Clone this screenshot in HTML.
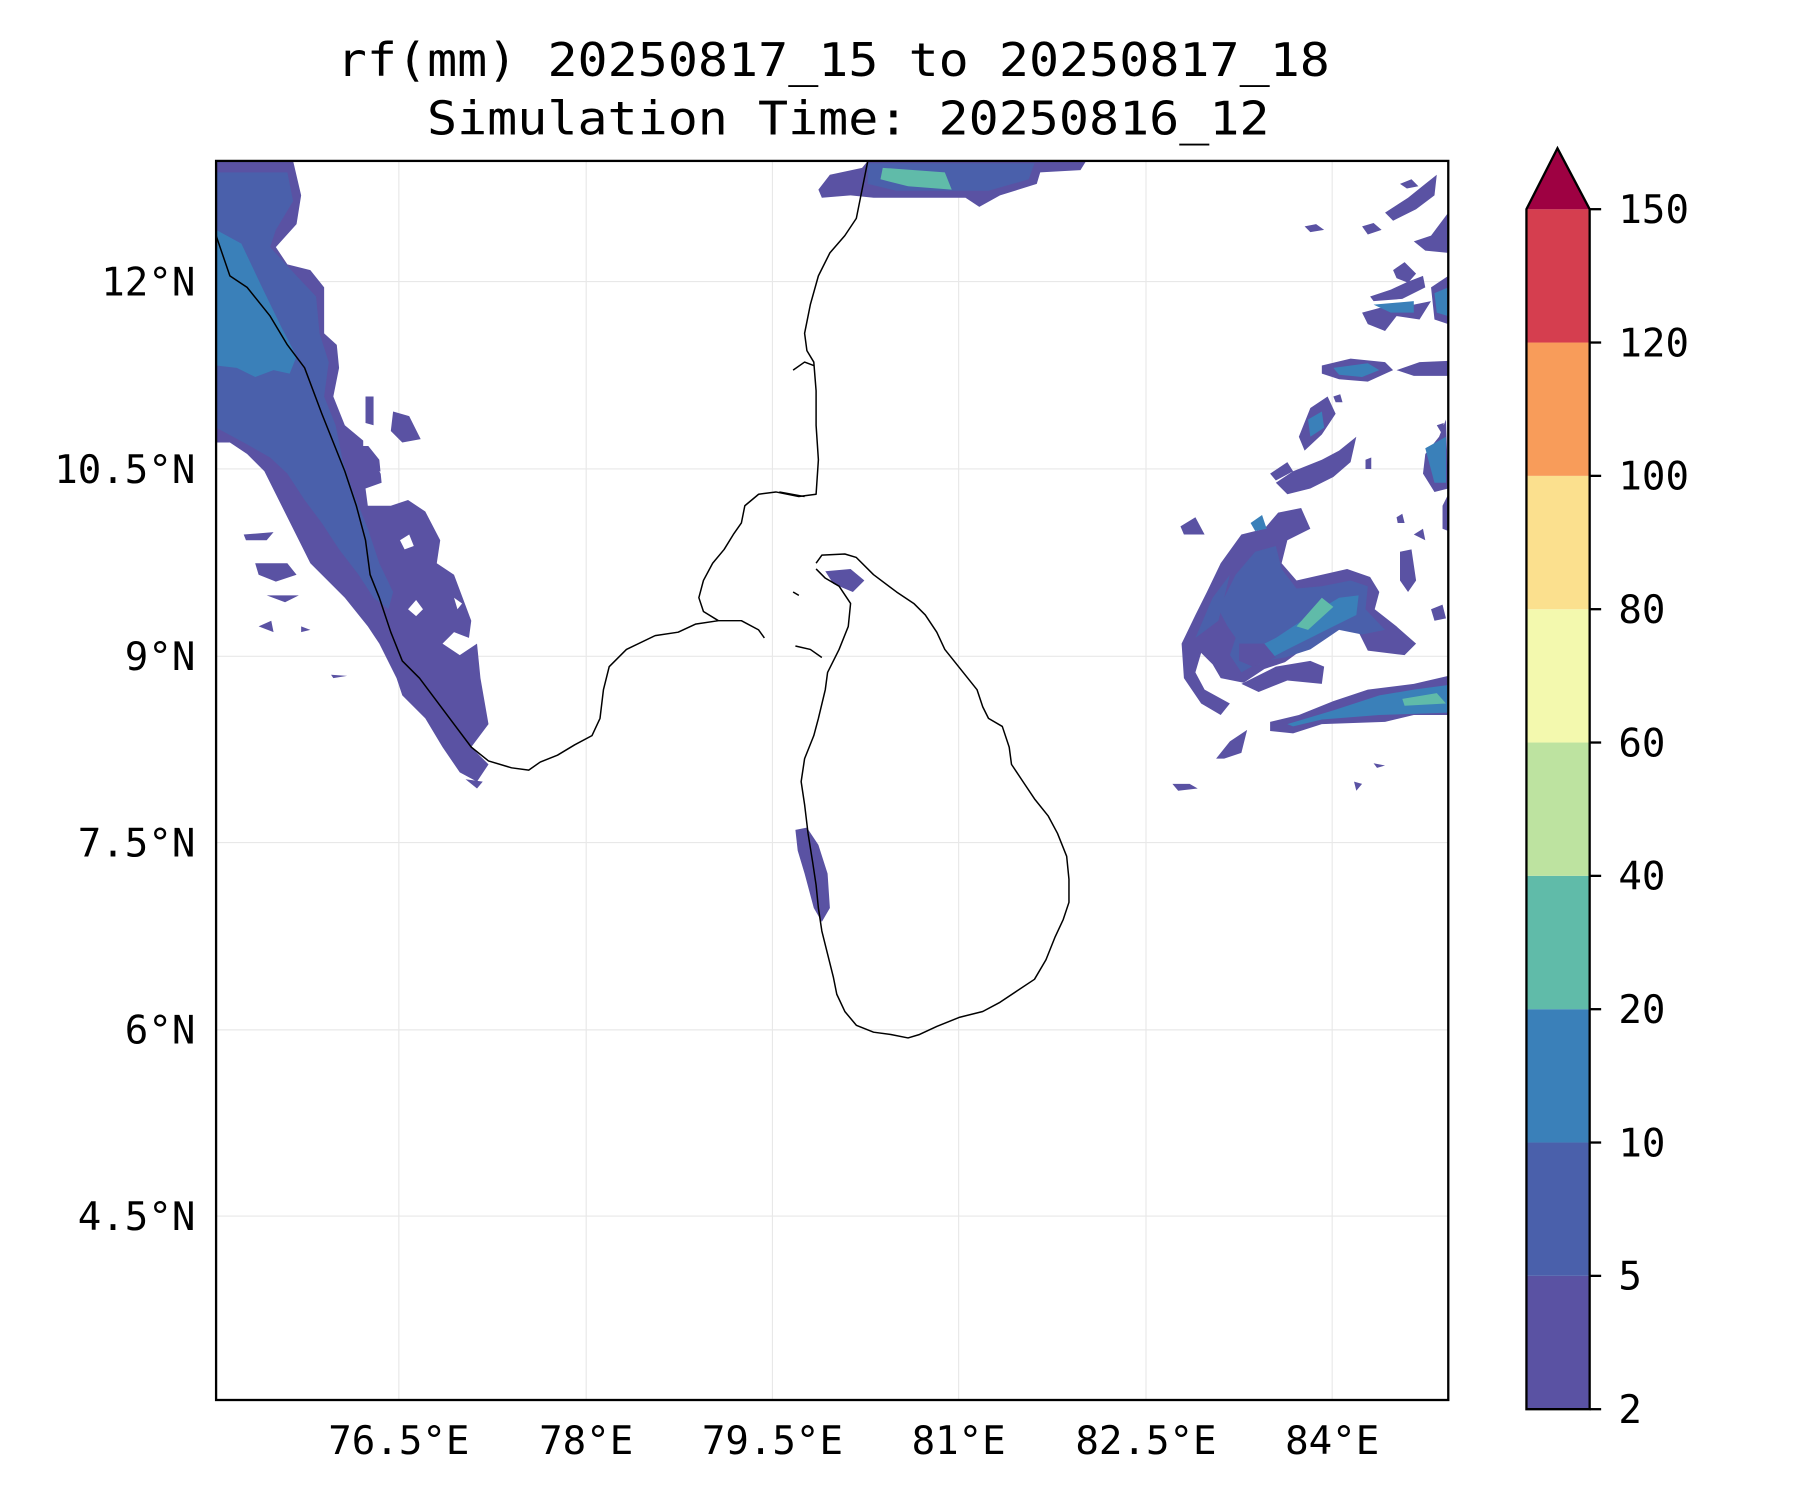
<!DOCTYPE html>
<html><head><meta charset="utf-8"><style>html,body{margin:0;padding:0;background:#fff}svg{display:block}</style></head>
<body>
<svg width="1800" height="1500" viewBox="0 0 1566 1305" preserveAspectRatio="none" xmlns="http://www.w3.org/2000/svg" font-family="'DejaVu Sans Mono','Liberation Mono',monospace">
<rect width="1566" height="1305" fill="#fff"/>
<text x="725" y="66" font-size="40" text-anchor="middle" textLength="864" lengthAdjust="spacingAndGlyphs">rf(mm) 20250817_15 to 20250817_18</text>
<text x="738" y="117" font-size="40" text-anchor="middle" textLength="733" lengthAdjust="spacingAndGlyphs">Simulation Time: 20250816_12</text>
<clipPath id="c"><rect x="188" y="140" width="1072" height="1078"/></clipPath>
<g stroke="#e8e8e8" stroke-width="1">
<line x1="347" y1="140" x2="347" y2="1218"/><line x1="510" y1="140" x2="510" y2="1218"/><line x1="672" y1="140" x2="672" y2="1218"/><line x1="834" y1="140" x2="834" y2="1218"/><line x1="997" y1="140" x2="997" y2="1218"/><line x1="1159" y1="140" x2="1159" y2="1218"/>
<line x1="188" y1="245" x2="1260" y2="245"/><line x1="188" y1="408" x2="1260" y2="408"/><line x1="188" y1="571" x2="1260" y2="571"/><line x1="188" y1="733" x2="1260" y2="733"/><line x1="188" y1="896" x2="1260" y2="896"/><line x1="188" y1="1058" x2="1260" y2="1058"/>
</g>
<g clip-path="url(#c)">
<path fill="#5a52a3" d="M188,140 L255,140 262,170 258,195 240,215 250,230 270,235 282,250 282,290 293,300 295,320 290,345 300,370 318,385 330,400 332,420 318,425 320,440 340,440 355,435 370,445 383,470 380,490 395,500 410,540 408,555 395,550 385,560 400,570 415,560 418,590 425,630 410,650 425,665 415,680 400,672 385,650 370,625 350,605 345,590 330,560 320,545 300,520 285,505 270,490 260,470 250,450 240,430 230,410 215,395 200,385 188,385 Z"/>
<path fill="#fff" d="M228,160 L240,158 235,172 226,172Z M316,376 L322,376 322,388 316,388Z M330,410 L340,412 336,420Z M355,530 L362,522 368,530 362,536Z M348,470 L356,465 360,475 352,478Z M395,520 L402,525 398,530Z"/>
<path fill="#4a60ab" d="M188,150 L250,150 255,175 240,200 235,215 258,240 275,258 278,290 286,315 282,345 292,370 298,400 308,430 320,460 330,490 342,515 338,530 325,520 312,500 295,478 280,455 265,435 250,412 235,398 212,385 188,372 Z"/>
<path fill="#3a80b9" d="M188,200 L210,212 228,250 245,285 258,310 252,325 238,322 222,328 206,320 188,318 Z"/>
<path fill="#5a52a3" d="M212,465 L238,463 232,470 214,470Z M222,490 L250,490 258,500 240,506 225,500Z M232,518 L260,518 248,524Z M225,545 L236,540 238,550Z M262,545 L270,548 262,550Z M288,587 L302,588 290,590Z M342,358 L356,362 366,382 350,385 340,375Z M318,345 L325,345 325,370 318,368Z M405,678 L420,680 415,686Z"/>
<path fill="#5a52a3" d="M712,165 L722,152 750,146 755,140 945,140 940,148 905,150 902,160 870,170 852,180 840,172 760,172 740,170 715,172 Z"/>
<path fill="#4a60ab" d="M755,142 L900,142 895,156 860,166 780,166 755,160Z"/>
<path fill="#60bba9" d="M768,146 L822,150 828,165 790,162 766,156Z"/>
<path fill="#5a52a3" d="M692,722 L702,720 712,735 720,760 722,790 715,802 708,790 700,760 694,740Z M718,497 L740,495 752,505 742,515 725,508Z"/>
<path fill="#5a52a3" d="M1105,628 L1130,622 1160,610 1190,600 1230,595 1260,588 1260,622 1230,622 1205,628 1150,630 1125,638 1105,636Z M1058,660 L1070,645 1085,635 1080,655 1065,660Z M1020,682 L1035,682 1042,686 1025,688Z M1178,680 L1185,682 1180,688Z M1195,664 L1205,666 1198,668Z"/>
<path fill="#3a80b9" d="M1120,630 L1160,618 1200,605 1230,600 1260,596 1260,620 1200,622 1150,626 1125,632Z"/>
<path fill="#60bba9" d="M1220,608 L1250,603 1258,612 1222,614Z"/>
<path fill="#5a52a3" d="M1028,560 L1040,535 1050,515 1062,490 1080,465 1100,460 1112,446 1132,442 1140,460 1120,470 1115,490 1128,505 1150,500 1172,495 1192,502 1200,515 1196,530 1215,545 1232,560 1222,570 1190,566 1180,546 1160,545 1140,560 1118,576 1100,582 1082,594 1062,590 1055,578 1045,568 1040,585 1048,600 1070,612 1062,622 1045,612 1030,590Z"/>
<path fill="#4a60ab" d="M1060,530 L1075,500 1092,480 1110,475 1115,495 1128,512 1150,510 1175,505 1190,510 1188,530 1205,548 1185,552 1165,548 1140,565 1118,572 1098,575 1080,585 1070,570 1075,555 1068,545Z"/>
<path fill="#3a80b9" d="M1080,570 L1110,555 1140,535 1165,520 1182,518 1180,535 1150,550 1120,565 1095,578Z M1088,455 L1098,448 1102,460 1092,462Z"/>
<path fill="#60bba9" d="M1128,545 L1150,520 1160,528 1138,548Z"/>
<path fill="#5a52a3" d="M1027,458 L1040,450 1048,465 1030,465Z M1078,560 L1100,560 1110,572 1090,580 1078,575Z M1080,595 L1110,580 1140,575 1152,580 1150,595 1120,592 1095,602Z M1110,420 L1125,410 1150,400 1165,392 1180,380 1175,402 1160,415 1140,425 1120,430Z M1130,380 L1140,355 1155,345 1162,360 1150,378 1135,392Z M1105,412 L1120,402 1125,410 1110,418Z M1218,480 L1228,478 1232,505 1225,515 1218,505Z M1245,530 L1255,526 1258,538 1248,540Z M1215,450 L1220,447 1222,455 1216,455Z M1230,465 L1238,460 1240,470Z"/>
<path fill="#4a60ab" d="M1040,555 L1055,520 1070,500 1060,540Z"/>
<path fill="#5a52a3" d="M1150,318 L1175,312 1205,315 1212,322 1190,332 1165,330 1150,325Z M1215,322 L1235,315 1260,314 1260,327 1230,327Z M1185,272 L1200,268 1230,265 1245,262 1235,278 1215,275 1205,288 1190,282Z M1192,258 L1210,252 1225,245 1238,240 1240,250 1220,260 1195,262Z M1212,235 L1222,228 1232,238 1225,246 1215,242Z M1245,250 L1260,240 1260,282 1248,278Z M1230,210 L1245,205 1260,185 1260,220 1240,218Z M1205,185 L1225,172 1240,160 1250,152 1248,170 1232,182 1212,192Z M1135,197 L1145,195 1152,200 1140,202Z M1185,197 L1195,194 1202,200 1190,204Z M1218,160 L1228,156 1234,162 1224,164Z M1240,395 L1252,380 1258,365 1260,425 1248,428 1238,412Z M1255,440 L1260,430 1260,462 1255,460Z M1188,400 L1193,398 1193,408 1188,408Z M1160,345 L1166,343 1168,350 1162,350Z M1250,370 L1256,368 1256,380Z"/>
<path fill="#3a80b9" d="M1160,320 L1190,316 1200,322 1185,328 1165,326Z M1195,265 L1230,262 1230,272 1210,272Z M1248,255 L1260,250 1260,275 1250,272Z M1240,390 L1258,380 1258,420 1248,420Z M1138,365 L1150,358 1152,372 1140,380Z"/>
</g>
<g fill="none" stroke="#000" stroke-width="1.3" stroke-linejoin="round">
<path d="M188,205 L200,240 215,250 235,275 250,300 265,320 280,360 290,385 300,410 310,440 318,470 322,500 330,520 340,550 350,575 365,590 380,610 395,630 410,650 425,662 445,668 460,670 470,663 485,657 500,648 515,640 522,625 525,600 530,580 545,565 570,553 590,550 605,543 625,540 645,540 660,548 665,555"/>
<path d="M755,140 L750,165 745,190 735,205 722,220 712,240 705,265 700,290 702,305 708,315 710,340 710,370 712,400 710,430 695,432 675,428 660,430 648,440 645,455 638,465 630,478 620,490 612,505 608,520 612,532 625,540"/>
<path d="M710,490 L715,483 735,482 745,485 760,500 780,515 795,525 805,535 815,550 822,565 830,575 838,585 850,600 855,615 860,625 872,632 878,650 880,665 890,680 900,695 912,710 920,725 928,745 930,765 930,785 925,800 918,815 910,835 900,852 885,862 870,872 855,880 835,885 815,893 800,900 790,903 775,900 760,898 745,892 735,880 728,865 725,850 720,830 715,810 712,790 710,770 707,750 703,725 700,700 697,680 700,660 708,640 712,625 718,600 720,585 730,565 738,545 740,525 730,510 718,503 710,495"/>
<path d="M692,562 L705,565 715,572 M690,515 L695,518 M690,322 L700,315 708,318 M678,428 L700,432"/>
</g>
<rect x="188" y="140" width="1072" height="1078" fill="none" stroke="#000" stroke-width="2"/>
<g font-size="34" fill="#000">
<text x="347" y="1265" text-anchor="middle">76.5°E</text><text x="510" y="1265" text-anchor="middle">78°E</text><text x="672" y="1265" text-anchor="middle">79.5°E</text><text x="834" y="1265" text-anchor="middle">81°E</text><text x="997" y="1265" text-anchor="middle">82.5°E</text><text x="1159" y="1265" text-anchor="middle">84°E</text>
<text x="170" y="257" text-anchor="end">12°N</text><text x="170" y="420" text-anchor="end">10.5°N</text><text x="170" y="583" text-anchor="end">9°N</text><text x="170" y="745" text-anchor="end">7.5°N</text><text x="170" y="908" text-anchor="end">6°N</text><text x="170" y="1070" text-anchor="end">4.5°N</text>
</g>
<g>
<rect x="1328" y="1110" width="55" height="116" fill="#5a52a3"/>
<rect x="1328" y="994" width="55" height="116" fill="#4a60ab"/>
<rect x="1328" y="878" width="55" height="116" fill="#3a80b9"/>
<rect x="1328" y="762" width="55" height="116" fill="#60bba9"/>
<rect x="1328" y="646" width="55" height="116" fill="#bde3a0"/>
<rect x="1328" y="530" width="55" height="116" fill="#f3f9ae"/>
<rect x="1328" y="414" width="55" height="116" fill="#fbe08e"/>
<rect x="1328" y="298" width="55" height="116" fill="#f89c5a"/>
<rect x="1328" y="182" width="55" height="116" fill="#d53e4f"/>
<path d="M1328,182 L1355,129 L1383,182 Z" fill="#9e0142"/>
<path d="M1328,182 L1355,129 L1383,182 L1383,1226 L1328,1226 Z" fill="none" stroke="#000" stroke-width="2"/>
<g stroke="#000" stroke-width="2">
<line x1="1383" y1="182" x2="1393" y2="182"/><line x1="1383" y1="298" x2="1393" y2="298"/><line x1="1383" y1="414" x2="1393" y2="414"/><line x1="1383" y1="530" x2="1393" y2="530"/><line x1="1383" y1="646" x2="1393" y2="646"/><line x1="1383" y1="762" x2="1393" y2="762"/><line x1="1383" y1="878" x2="1393" y2="878"/><line x1="1383" y1="994" x2="1393" y2="994"/><line x1="1383" y1="1110" x2="1393" y2="1110"/><line x1="1383" y1="1226" x2="1393" y2="1226"/>
</g>
<g font-size="34">
<text x="1408" y="194">150</text><text x="1408" y="310">120</text><text x="1408" y="426">100</text><text x="1408" y="542">80</text><text x="1408" y="658">60</text><text x="1408" y="774">40</text><text x="1408" y="890">20</text><text x="1408" y="1006">10</text><text x="1408" y="1122">5</text><text x="1408" y="1238">2</text>
</g>
</g>
</svg>
</body></html>
